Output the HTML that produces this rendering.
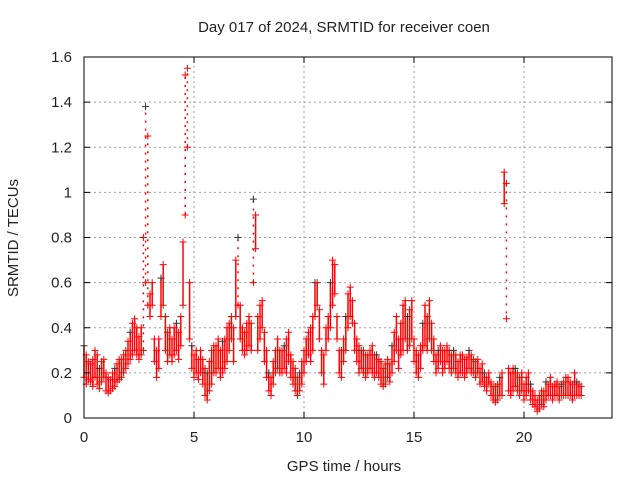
<!DOCTYPE html>
<html><head><meta charset="utf-8"><style>
html,body{margin:0;padding:0;background:#fff;}
svg{display:block;font-family:"Liberation Sans",sans-serif;}
</style></head><body>
<svg id="chart" width="640" height="480" viewBox="0 0 640 480" xmlns="http://www.w3.org/2000/svg">
<rect width="640" height="480" fill="#fff"/>
<g id="grid"></g>
<g id="marks"></g>
<rect x="84" y="57" width="528" height="361" fill="none" stroke="#000" stroke-width="1"/>
<g id="axes"></g>
<text x="344" y="32" text-anchor="middle" font-size="15" fill="#222">Day 017 of 2024, SRMTID for receiver coen</text>
<text x="344" y="471" text-anchor="middle" font-size="15" fill="#222">GPS time / hours</text>
<text x="18" y="238" text-anchor="middle" font-size="15" fill="#222" transform="rotate(-90 18 238)">SRMTID / TECUs</text>
</svg>
<script>
const xTicks = [0,5,10,15,20];
const yTicks = [0,0.2,0.4,0.6,0.8,1,1.2,1.4,1.6];
const yTickLabels = ["0","0.2","0.4","0.6","0.8","1","1.2","1.4","1.6"];
const tStart = 0;
const tStep = 0.1;
const loVals = [
0.18,0.15,0.17,0.16,0.14,0.18,0.15,0.13,0.16,0.18,
0.12,0.11,0.12,0.13,0.14,0.16,0.17,0.18,0.2,0.22,
0.24,0.26,0.28,0.3,0.28,0.26,0.28,0.3,0.6,0.5,
0.45,0.5,0.25,0.18,0.22,0.45,0.5,0.3,0.25,0.28,
0.25,0.28,0.3,0.26,0.32,0.5,0.9,1.2,0.35,0.22,
0.18,0.2,0.17,0.2,0.15,0.1,0.08,0.12,0.15,0.2,
0.2,0.22,0.18,0.2,0.22,0.25,0.3,0.35,0.25,0.45,
0.5,0.35,0.3,0.28,0.3,0.32,0.3,0.6,0.75,0.3,
0.35,0.4,0.25,0.18,0.12,0.1,0.15,0.2,0.22,0.2,
0.2,0.22,0.2,0.25,0.18,0.15,0.12,0.1,0.12,0.15,
0.2,0.25,0.28,0.25,0.3,0.45,0.5,0.35,0.2,0.15,
0.3,0.35,0.4,0.5,0.55,0.35,0.2,0.18,0.25,0.3,
0.4,0.45,0.42,0.3,0.25,0.2,0.22,0.2,0.18,0.2,
0.22,0.2,0.18,0.2,0.18,0.15,0.14,0.15,0.18,0.16,
0.2,0.25,0.3,0.22,0.28,0.3,0.35,0.3,0.32,0.35,
0.25,0.2,0.18,0.22,0.3,0.32,0.3,0.35,0.3,0.25,
0.2,0.22,0.25,0.2,0.22,0.25,0.22,0.2,0.22,0.2,
0.18,0.2,0.2,0.18,0.2,0.22,0.2,0.2,0.18,0.2,
0.15,0.16,0.14,0.12,0.15,0.1,0.08,0.07,0.08,0.1,
0.1,0.95,1.04,0.12,0.1,0.12,0.14,0.12,0.1,0.12,
0.08,0.1,0.12,0.08,0.06,0.05,0.03,0.04,0.06,0.05,
0.08,0.1,0.1,0.08,0.1,0.1,0.08,0.1,0.1,0.1,
0.1,0.1,0.08,0.1,0.1,0.1,0.1];
const hiVals = [
0.32,0.28,0.25,0.24,0.26,0.3,0.28,0.22,0.25,0.26,
0.2,0.18,0.17,0.2,0.22,0.24,0.26,0.26,0.28,0.3,
0.34,0.38,0.42,0.44,0.4,0.36,0.4,0.8,1.38,1.25,
0.55,0.6,0.35,0.3,0.35,0.62,0.68,0.45,0.38,0.4,
0.35,0.4,0.42,0.38,0.45,0.78,1.52,1.55,0.6,0.32,
0.28,0.3,0.26,0.3,0.26,0.22,0.2,0.25,0.3,0.32,
0.32,0.35,0.3,0.34,0.35,0.4,0.42,0.45,0.4,0.7,
0.8,0.5,0.4,0.38,0.42,0.45,0.42,0.97,0.9,0.45,
0.5,0.52,0.38,0.3,0.2,0.18,0.25,0.3,0.35,0.3,
0.3,0.32,0.35,0.38,0.28,0.25,0.22,0.18,0.2,0.25,
0.3,0.35,0.38,0.4,0.45,0.6,0.6,0.48,0.3,0.28,
0.4,0.45,0.6,0.7,0.68,0.45,0.3,0.3,0.35,0.45,
0.55,0.58,0.52,0.42,0.35,0.32,0.3,0.3,0.28,0.28,
0.3,0.32,0.28,0.28,0.26,0.25,0.22,0.24,0.26,0.24,
0.32,0.38,0.45,0.35,0.42,0.5,0.52,0.45,0.48,0.52,
0.35,0.3,0.28,0.32,0.42,0.5,0.45,0.52,0.42,0.35,
0.28,0.3,0.32,0.3,0.3,0.32,0.3,0.28,0.3,0.28,
0.25,0.28,0.28,0.26,0.27,0.3,0.28,0.26,0.25,0.26,
0.22,0.24,0.2,0.18,0.2,0.16,0.14,0.14,0.15,0.18,
0.2,1.09,0.44,0.22,0.2,0.22,0.22,0.2,0.18,0.2,
0.15,0.18,0.2,0.15,0.12,0.1,0.08,0.1,0.12,0.12,
0.16,0.15,0.18,0.14,0.15,0.16,0.14,0.15,0.16,0.18,
0.18,0.16,0.15,0.2,0.16,0.15,0.14];

const NS='http://www.w3.org/2000/svg';
const X0=84,X1=612,Y0=418,Y1=57,XMAX=24,YMAX=1.6;
function xs(t){return X0+(t/XMAX)*(X1-X0);}
function ys(v){return Y0-(v/YMAX)*(Y0-Y1);}
function mk(tag,at,parent){const e=document.createElementNS(NS,tag);for(const k in at)e.setAttribute(k,at[k]);parent.appendChild(e);return e;}
const grid=document.getElementById('grid'),axes=document.getElementById('axes'),marks=document.getElementById('marks');
xTicks.forEach(t=>{
  const x=xs(t);
  if(t>0){const g=mk('line',{x1:x,y1:Y0,x2:x,y2:Y1,stroke:'#a0a0a0','stroke-dasharray':'2,3'},grid);
  
  }
  const tl=mk('text',{x:x,y:Y0+24,'text-anchor':'middle','font-size':'15',fill:'#222'},axes);
  tl.textContent=String(t);
  
  
  mk('line',{x1:x,y1:Y0,x2:x,y2:Y0-6,stroke:'#000'},axes);
  mk('line',{x1:x,y1:Y1,x2:x,y2:Y1+6,stroke:'#000'},axes);
});
yTicks.forEach((v,i)=>{
  const y=ys(v);
  if(v>0&&v<YMAX){const g=mk('line',{x1:X0,y1:y,x2:X1,y2:y,stroke:'#a0a0a0','stroke-dasharray':'2,3'},grid);
  
  }
  const tl=mk('text',{x:X0-12,y:y+5,'text-anchor':'end','font-size':'15',fill:'#222'},axes);
  tl.textContent=yTickLabels[i];
  
  
  mk('line',{x1:X0,y1:y,x2:X0+6,y2:y,stroke:'#000'},axes);
  mk('line',{x1:X1,y1:y,x2:X1-6,y2:y,stroke:'#000'},axes);
});
function plus(x,y,col){
  const p=mk('path',{d:`M${x-3.5} ${y}H${x+3.5}M${x} ${y-3.5}V${y+3.5}`,stroke:col,'stroke-width':'1',fill:'none'},marks);
  
  
}
loVals.forEach((lo,i)=>{
  const t=tStart+i*tStep, hi=hiVals[i], x=xs(t);
  const r=mk('line',{x1:x,y1:ys(lo),x2:x,y2:ys(hi),stroke:'#ff0000','stroke-width':'1.5','stroke-dasharray':(Math.abs(hi-lo)>0.3?'2,6':'none')},marks);
  
  
  plus(x,ys(lo),'#ff0000');
  plus(x,ys(hi),i%7===0?'#333':'#ff0000');
});
</script>
</body></html>
